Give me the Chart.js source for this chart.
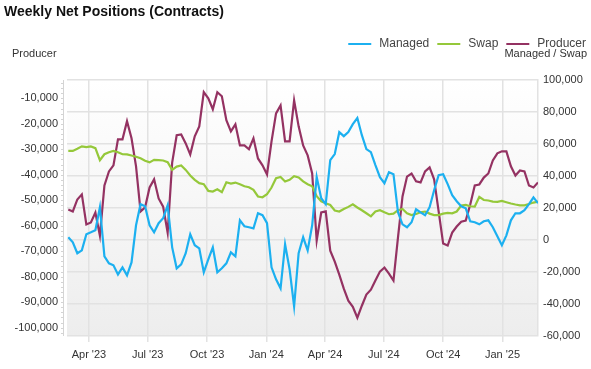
<!DOCTYPE html>
<html>
<head>
<meta charset="utf-8">
<script src="https://cdn.jsdelivr.net/npm/chart.js@4.4.1/dist/chart.umd.min.js"></script>
<style>
  html, body { margin: 0; padding: 0; background: #fff; }
  #wrap { width: 591px; height: 369px; }
</style>
</head>
<body>
<div id="wrap"><canvas id="chartPositions" width="591" height="369"></canvas></div>
<script>
// weekly reports, first one on this date, one value per week
const startDate = "2023-02-28";

const managed = [
  1700, -1400, -8300, -6500, 3600, 4800, 6100, 20500, -10200, -14600,
  -15800, -21500, -17100, -22100, -14000, 9200, 22400, 21100, 9200, 4800,
  10500, 13600, 21700, -4600, -17700, -15200, -8300, 3600, -3300, -5200,
  -20200, -12100, -4600, -20200, -17700, -14600, -7700, -10200, 12300, 8600,
  8000, 7300, 16700, 15500, 10500, -17100, -24600, -30200, -2700, -18300,
  -41500, -8300, 1700, -6500, 9200, 39300, 26100, 22400, 49900, 53700,
  67400, 64900, 67400, 72400, 76200, 65500, 56800, 54900, 46800, 39300,
  35500, 42400, 41100, 17300, 9800, 8000, 11100, 19200, 17300, 15500,
  20500, 31100, 40500, 41100, 34900, 28000, 24200, 21100, 19800, 11700,
  11100, 9800, 11700, 12300, 8000, 2300, -3300, 2900, 12300, 16700,
  16700, 18600, 22400, 26700, 23000
];

const swap = [
  55700, 55700, 57000, 58500, 58000, 58500, 57400, 49900, 53600, 54900,
  55700, 54900, 53600, 53500, 52800, 52000, 51100, 49500, 48500, 50100,
  49900, 49700, 48600, 43800, 45900, 46600, 43800, 40300, 37600, 35500,
  34900, 30700, 30300, 31700, 29900, 36100, 35300, 35900, 34900, 33600,
  33000, 31300, 27200, 26700, 28600, 32800, 38600, 39400, 36600, 37600,
  39900, 39100, 36600, 34900, 33600, 27400, 24200, 23000, 21900, 18400,
  17800, 19400, 20700, 22300, 20300, 18600, 16700, 14800, 17800, 18600,
  17300, 16100, 16500, 18600, 19400, 16700, 15600, 16300, 17300, 17800,
  16500, 15600, 15600, 16500, 16900, 16700, 17800, 21500, 21900, 21100,
  20900, 26900, 25000, 24700, 24000, 23800, 24400, 23600, 22800, 22200,
  21700, 21700, 22500, 23400, 24000
];

const producer = [
  -53600, -54400, -49700, -47700, -59500, -58700, -54800, -63900, -44200, -38700,
  -36300, -26100, -26100, -19000, -25700, -36700, -54400, -52800, -45000, -41800,
  -49300, -52500, -62700, -35200, -24500, -24200, -27700, -32000, -24900, -21000,
  -7600, -10000, -14300, -7600, -9200, -18600, -23000, -20200, -28500, -28500,
  -30000, -25700, -33600, -36300, -39900, -26900, -15900, -12800, -26900, -26900,
  -10800, -21000, -28500, -32400, -39500, -65800, -54800, -54400, -69800, -74100,
  -79200, -84700, -89400, -91800, -96100, -91400, -87000, -85100, -81500, -78000,
  -76400, -78800, -81500, -64600, -48500, -40700, -39500, -42600, -43000, -38700,
  -37100, -41800, -54400, -67000, -67800, -62700, -60300, -58400, -58000, -51700,
  -44200, -43800, -41100, -39500, -34400, -31600, -30800, -30800, -36700, -40300,
  -38300, -38700, -44200, -45000, -43000
];

const tickDates = ["2023-04-01", "2023-07-01", "2023-10-01", "2024-01-01",
                   "2024-04-01", "2024-07-01", "2024-10-01", "2025-01-01"];
const tickLabels = ["Apr '23", "Jul '23", "Oct '23", "Jan '24",
                    "Apr '24", "Jul '24", "Oct '24", "Jan '25"];
const producerTicks = [-100000, -90000, -80000, -70000, -60000, -50000,
                       -40000, -30000, -20000, -10000];
const managedSwapTicks = [-60000, -40000, -20000, 0, 20000, 40000, 60000, 80000, 100000];

const FONT = "Arial, 'Liberation Sans', sans-serif";
const dayOf = d => (Date.parse(d) - Date.parse(startDate)) / 86400000;
const toPoints = arr => arr.map((v, i) => ({ x: i * 7, y: v }));
const fmt = v => Number(v).toLocaleString("en-US");

// plot background: white fading to light grey
const plotBg = {
  id: "plotBg",
  beforeDraw(chart) {
    const { ctx, chartArea: a } = chart;
    ctx.save();
    ctx.fillStyle = "#fff";
    ctx.fillRect(0, 0, chart.width, chart.height);
    const g = ctx.createLinearGradient(0, a.top, 0, a.bottom);
    g.addColorStop(0, "#ffffff");
    g.addColorStop(1, "#ededed");
    ctx.fillStyle = g;
    ctx.fillRect(a.left, a.top, a.right - a.left, a.bottom - a.top);
    ctx.restore();
  }
};

// small ruler marks along the left axis
const leftRuler = {
  id: "leftRuler",
  afterDraw(chart) {
    const { ctx, chartArea: a } = chart;
    const y = chart.scales.y;
    ctx.save();
    ctx.strokeStyle = "#d4d4d4";
    ctx.lineWidth = 1;
    ctx.beginPath();
    ctx.moveTo(a.left - 3.5, a.top);
    ctx.lineTo(a.left - 3.5, a.bottom);
    for (let v = -102000; v <= -4000; v += 2000) {
      const py = Math.round(y.getPixelForValue(v)) + 0.5;
      ctx.moveTo(a.left - 6, py);
      ctx.lineTo(a.left - 3, py);
    }
    ctx.stroke();
    ctx.restore();
  }
};

// title, axis captions and legend
const texts = {
  id: "texts",
  afterDraw(chart) {
    const ctx = chart.ctx;
    ctx.save();
    ctx.textBaseline = "alphabetic";
    ctx.fillStyle = "#111";
    ctx.font = "bold 14px " + FONT;
    ctx.textAlign = "left";
    ctx.fillText("Weekly Net Positions (Contracts)", 4, 16);

    ctx.fillStyle = "#333";
    ctx.font = "11px " + FONT;
    ctx.fillText("Producer", 12, 57);
    ctx.textAlign = "right";
    ctx.fillText("Managed / Swap", 587, 57);

    ctx.font = "12px " + FONT;
    ctx.textAlign = "left";
    const sets = chart.data.datasets;
    const lineW = 23, gap = 8, itemGap = 8;
    let total = 0;
    sets.forEach((d, i) => {
      total += lineW + gap + ctx.measureText(d.label).width;
      if (i < sets.length - 1) total += itemGap;
    });
    let x = 586 - total;
    sets.forEach(d => {
      ctx.strokeStyle = d.borderColor;
      ctx.lineWidth = 2;
      ctx.beginPath();
      ctx.moveTo(x, 44);
      ctx.lineTo(x + lineW, 44);
      ctx.stroke();
      x += lineW + gap;
      ctx.fillStyle = "#444";
      ctx.fillText(d.label, x, 47);
      x += ctx.measureText(d.label).width + itemGap;
    });
    ctx.restore();
  }
};

new Chart(document.getElementById("chartPositions"), {
  type: "line",
  data: {
    datasets: [
      { label: "Managed", data: toPoints(managed), borderColor: "#1cb0f0", yAxisID: "y1" },
      { label: "Swap", data: toPoints(swap), borderColor: "#95c83a", yAxisID: "y1" },
      { label: "Producer", data: toPoints(producer), borderColor: "#943262", yAxisID: "y" }
    ]
  },
  options: {
    responsive: false,
    animation: false,
    devicePixelRatio: 1,
    layout: { padding: { top: 80, left: 0, right: 0, bottom: 0 } },
    elements: {
      line: { borderWidth: 2.2, tension: 0, fill: false },
      point: { radius: 0 }
    },
    plugins: { legend: { display: false }, tooltip: { enabled: false } },
    scales: {
      x: {
        type: "linear",
        min: -2,
        max: (managed.length - 1) * 7,
        afterBuildTicks: s => { s.ticks = tickDates.map(d => ({ value: dayOf(d) })); },
        afterFit: s => { s.height = 33; },
        ticks: {
          autoSkip: false, maxRotation: 0, padding: 6,
          color: "#333", font: { family: FONT, size: 11 },
          callback: (v, i) => tickLabels[i]
        },
        grid: { color: "#e2e2e2", lineWidth: 1.5, tickLength: 6 },
        border: { display: false }
      },
      y: {
        position: "left",
        min: -103280,
        max: -2806,
        afterBuildTicks: s => { s.ticks = producerTicks.map(v => ({ value: v })); },
        afterFit: s => { s.width = 67; },
        ticks: { padding: 9, color: "#333", font: { family: FONT, size: 11 }, callback: fmt },
        grid: { display: false, drawTicks: false },
        border: { display: false }
      },
      y1: {
        position: "right",
        min: -60000,
        max: 100000,
        afterBuildTicks: s => { s.ticks = managedSwapTicks.map(v => ({ value: v })); },
        afterFit: s => { s.width = 53; },
        ticks: { padding: 5, color: "#333", font: { family: FONT, size: 11 }, callback: fmt },
        grid: { color: "#e2e2e2", lineWidth: 1.5, drawTicks: false },
        border: { display: true, color: "#e2e2e2", width: 1.5 }
      }
    }
  },
  plugins: [plotBg, leftRuler, texts]
});
</script>
</body>
</html>
